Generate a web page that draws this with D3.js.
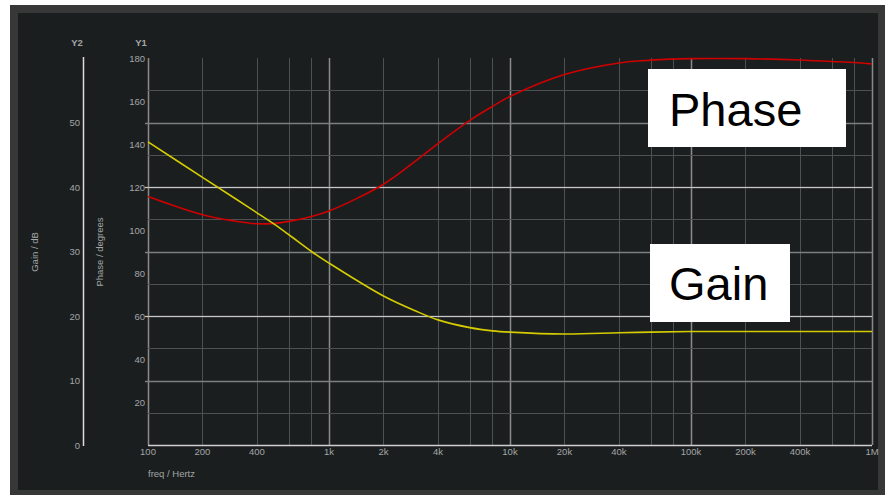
<!DOCTYPE html>
<html>
<head>
<meta charset="utf-8">
<script src="https://cdn.jsdelivr.net/npm/d3@7"></script>
<style>
  html, body { margin: 0; padding: 0; background: #ffffff; }
  svg { display: block; }
  text { font-family: "Liberation Sans", Arial, sans-serif; }
</style>
</head>
<body>
<svg id="chart" width="885" height="495"></svg>
<script>
// Frequency sweep (Hz)
const freq = [100, 200, 300, 400, 500, 600, 800, 1e3, 2e3, 3e3, 4e3, 6e3, 8e3, 1e4, 2e4, 4e4, 6e4, 1e5, 2e5, 4e5, 6e5, 8e5, 1e6];
// Phase in degrees (Y1)
const phase = [115.6, 107.1, 104.2, 102.9, 103.1, 104.0, 106.3, 108.8, 121.3, 132.0, 140.2, 151.0, 157.5, 162.1, 172.3, 177.7, 179.0, 179.7, 179.7, 179.1, 178.4, 177.9, 177.2];
// Gain in dB (Y2)
const gain = [47.0, 41.5, 38.3, 36.0, 34.2, 32.6, 30.0, 28.2, 23.1, 20.8, 19.4, 18.2, 17.7, 17.5, 17.2, 17.4, 17.5, 17.6, 17.6, 17.6, 17.6, 17.6, 17.6];

// Axis ticks
const freqLabelTicks = [100, 200, 400, 1e3, 2e3, 4e3, 1e4, 2e4, 4e4, 1e5, 2e5, 4e5, 1e6];
const freqLabels = ["100", "200", "400", "1k", "2k", "4k", "10k", "20k", "40k", "100k", "200k", "400k", "1M"];
const freqGridTicks = [100, 200, 400, 600, 800, 1e3, 2e3, 4e3, 6e3, 8e3, 1e4, 2e4, 4e4, 6e4, 8e4, 1e5, 2e5, 4e5, 6e5, 8e5, 1e6];
const phaseTicks = [20, 40, 60, 80, 100, 120, 140, 160, 180];
const phaseGridTicks = [60, 120];
const gainTicks = [0, 10, 20, 30, 40, 50];
const gainGridTicks = [5, 10, 15, 20, 25, 30, 35, 40, 45, 50, 55];

const svg = d3.select("#chart");

// Panel frame
svg.append("rect").attr("x", 10).attr("y", 5).attr("width", 875).attr("height", 490).attr("fill", "#373737");
svg.append("rect").attr("x", 18).attr("y", 13).attr("width", 860).attr("height", 477).attr("fill", "#1b1e1f");

const x = d3.scaleLog().domain([100, 1e6]).range([148, 872]);
const y1 = d3.scaleLinear().domain([0, 180]).range([445, 58]);
const y2 = d3.scaleLinear().domain([0, 60]).range([445, 58]);

const grid = svg.append("g");
const isDecade = d => Math.abs(Math.log10(d) % 1) < 1e-9;

// Vertical grid
grid.selectAll("line.vg").data(freqGridTicks).join("line")
  .attr("x1", d => Math.round(x(d)) + 0.5).attr("x2", d => Math.round(x(d)) + 0.5)
  .attr("y1", 58).attr("y2", 445)
  .attr("stroke", d => isDecade(d) ? "#8a8a8a" : "#4e5152")
  .attr("stroke-width", d => isDecade(d) ? 1.5 : 1);

// Horizontal grid on the gain scale
grid.selectAll("line.hg").data(gainGridTicks).join("line")
  .attr("x1", d => d % 10 === 0 ? 145 : 148).attr("x2", 872)
  .attr("y1", d => Math.round(y2(d)) + 0.5).attr("y2", d => Math.round(y2(d)) + 0.5)
  .attr("stroke", d => d % 10 === 0 ? "#7d7f80" : "#4e5152")
  .attr("stroke-width", d => d % 10 === 0 ? 1.5 : 1);

// Phase grid lines overlaying the gain grid
grid.selectAll("line.pg").data(phaseGridTicks).join("line")
  .attr("x1", 145).attr("x2", 872)
  .attr("y1", d => Math.round(y1(d)) + 0.5).attr("y2", d => Math.round(y1(d)) + 0.5)
  .attr("stroke", "#c8c8c8").attr("stroke-width", 1);

// Bottom axis line
svg.append("line").attr("x1", 148).attr("x2", 872).attr("y1", 445.5).attr("y2", 445.5)
  .attr("stroke", "#cfcfcf").attr("stroke-width", 1.5);

// Y2 axis line
svg.append("line").attr("x1", 83.5).attr("x2", 83.5).attr("y1", 57).attr("y2", 446)
  .attr("stroke", "#dcdcdc").attr("stroke-width", 1.5);

const labelColor = "#a3a6a8";

// X tick labels
svg.append("g").selectAll("text").data(freqLabelTicks).join("text")
  .attr("x", d => x(d)).attr("y", 455)
  .attr("text-anchor", "middle").attr("font-size", 9.5).attr("fill", labelColor)
  .text((d, i) => freqLabels[i]);

// Y1 tick labels
svg.append("g").selectAll("text").data(phaseTicks).join("text")
  .attr("x", 145).attr("y", d => y1(d) + 3.5)
  .attr("text-anchor", "end").attr("font-size", 9.5).attr("fill", labelColor)
  .text(d => d);

// Y2 tick labels
svg.append("g").selectAll("text").data(gainTicks).join("text")
  .attr("x", 80).attr("y", d => y2(d) + 3.5)
  .attr("text-anchor", "end").attr("font-size", 9.5).attr("fill", labelColor)
  .text(d => d);

// Axis headers and titles
svg.append("text").attr("x", 77).attr("y", 46).attr("text-anchor", "middle")
  .attr("font-size", 9.5).attr("font-weight", "bold").attr("fill", labelColor).text("Y2");
svg.append("text").attr("x", 141).attr("y", 46).attr("text-anchor", "middle")
  .attr("font-size", 9.5).attr("font-weight", "bold").attr("fill", labelColor).text("Y1");
svg.append("text").attr("transform", "translate(38,252) rotate(-90)").attr("text-anchor", "middle")
  .attr("font-size", 9.5).attr("fill", labelColor).text("Gain / dB");
svg.append("text").attr("transform", "translate(103,252) rotate(-90)").attr("text-anchor", "middle")
  .attr("font-size", 9.5).attr("fill", labelColor).text("Phase / degrees");
svg.append("text").attr("x", 148).attr("y", 477).attr("text-anchor", "start")
  .attr("font-size", 9.5).attr("fill", labelColor).text("freq / Hertz");

// Curves
const phaseLine = d3.line().x((d, i) => x(freq[i])).y(d => y1(d)).curve(d3.curveCatmullRom.alpha(0.5));
const gainLine = d3.line().x((d, i) => x(freq[i])).y(d => y2(d)).curve(d3.curveCatmullRom.alpha(0.5));

svg.append("path").datum(phase).attr("d", phaseLine)
  .attr("fill", "none").attr("stroke", "#d00000").attr("stroke-width", 1.6);
svg.append("path").datum(gain).attr("d", gainLine)
  .attr("fill", "none").attr("stroke", "#d4cc00").attr("stroke-width", 1.6);

// Annotation boxes
svg.append("rect").attr("x", 648).attr("y", 69).attr("width", 198).attr("height", 78).attr("fill", "#ffffff");
svg.append("text").attr("x", 669).attr("y", 126).attr("font-size", 47).attr("fill", "#000").text("Phase");
svg.append("rect").attr("x", 650).attr("y", 244).attr("width", 140).attr("height", 78).attr("fill", "#ffffff");
svg.append("text").attr("x", 669).attr("y", 300).attr("font-size", 47).attr("fill", "#000").text("Gain");
</script>
</body>
</html>
